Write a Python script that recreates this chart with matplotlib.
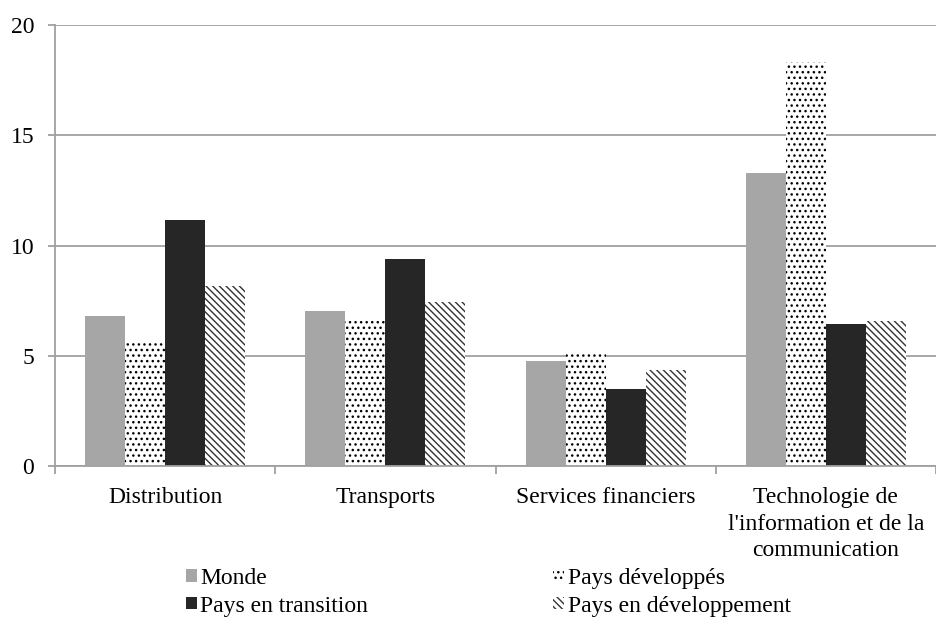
import numpy as np
import matplotlib.pyplot as plt
from matplotlib.patches import Patch

plt.rcParams["font.family"] = ["Liberation Serif", "DejaVu Serif"]
plt.rcParams["hatch.linewidth"] = 1.0

# Données
categories = ["Distribution", "Transports", "Services financiers",
              "Technologie de\nl'information et de la\ncommunication"]
monde = [6.8, 7.03, 4.76, 13.29]
pays_developpes = [5.62, 6.62, 5.08, 18.32]
pays_transition = [11.16, 9.39, 3.49, 6.44]
pays_developpement = [8.16, 7.44, 4.35, 6.58]

series = [
    ("Monde", monde, dict(facecolor="#a6a6a6", hatch=None, edgecolor="#a6a6a6")),
    ("Pays développés", pays_developpes, dict(facecolor="white", hatch="...", edgecolor="black")),
    ("Pays en transition", pays_transition, dict(facecolor="#262626", hatch=None, edgecolor="#262626")),
    ("Pays en développement", pays_developpement, dict(facecolor="white", hatch="\\\\\\\\\\", edgecolor="#333333")),
]

fig = plt.figure(figsize=(9.36, 6.19), dpi=100)
ax = fig.add_axes([55 / 936, 1 - 466 / 619, 1 - 55 / 936, (466 - 25) / 619])

x = np.arange(len(categories))
w = 40 / 220
handles = []
for j, (name, vals, style) in enumerate(series):
    ax.bar(x + (j - 1.5) * w, vals, width=w, linewidth=0, zorder=3, **style)
    handles.append(Patch(label=name, linewidth=0, **style))

grid_col = "#a0a0a0"
ax.set_ylim(0, 20)
ax.set_xlim(-0.5, 3.5)
ax.set_yticks([0, 5, 10, 15, 20])
ax.yaxis.grid(True, color=grid_col, linewidth=1.3, zorder=0)
ax.set_axisbelow(True)

for s in ["top", "right"]:
    ax.spines[s].set_visible(False)
for s in ["left", "bottom"]:
    ax.spines[s].set_color(grid_col)
    ax.spines[s].set_linewidth(1.3)
    ax.spines[s].set_zorder(4)

ax.set_xticks(x)
ax.set_xticklabels(categories, fontsize=17, linespacing=1.36)
ax.tick_params(axis="x", which="major", length=0, pad=15)
ax.set_xticks(np.arange(-0.5, 4.0, 1.0), minor=True)
ax.tick_params(axis="x", which="minor", length=6, color=grid_col, width=1.3)
ax.tick_params(axis="y", length=5, color=grid_col, width=1.3, labelsize=17, pad=10)

# ordre ligne par ligne : Monde / Pays développés, puis transition / développement
order = [0, 2, 1, 3]
fig.legend(handles=[handles[i] for i in order], loc="lower left",
           bbox_to_anchor=(186 / 936, 0.004), borderaxespad=0.0, borderpad=0.0,
           ncol=2, frameon=False, fontsize=17, handlelength=0.45, handleheight=0.45,
           handletextpad=0.15, columnspacing=7.85, labelspacing=0.28)

fig.savefig("out.png", dpi=100)
